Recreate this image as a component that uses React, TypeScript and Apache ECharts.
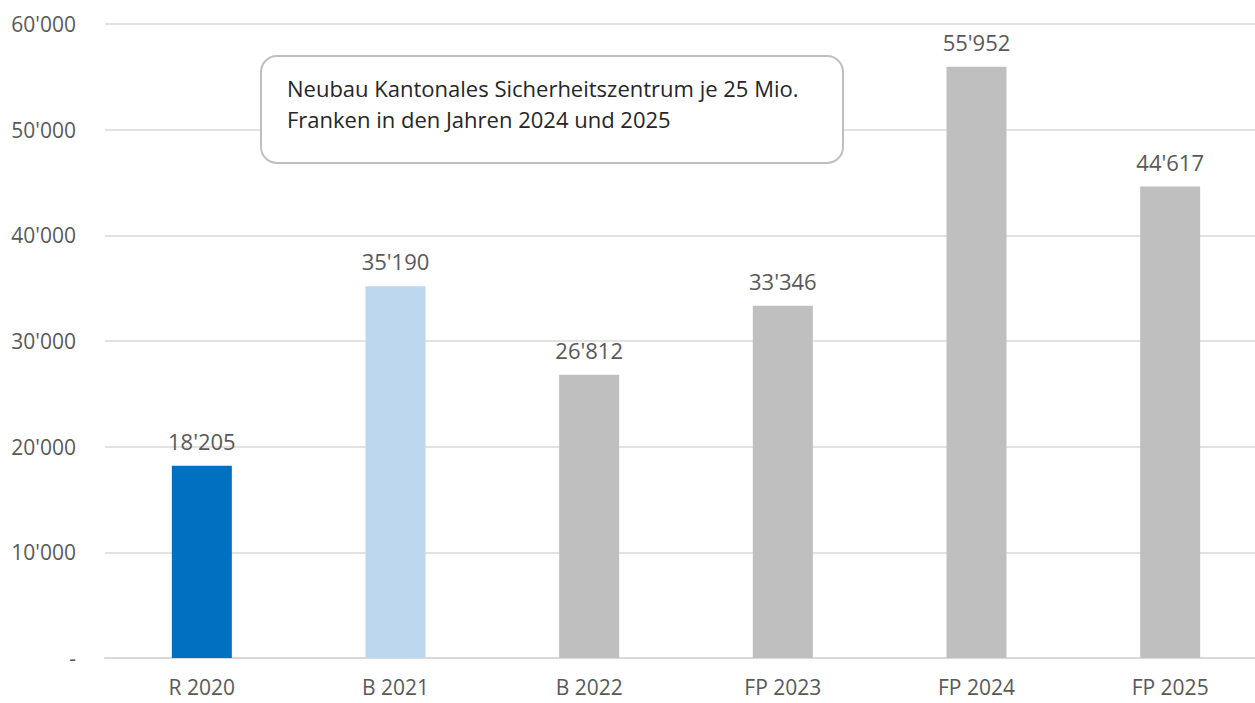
import React, { useEffect, useRef } from "react";
import * as echarts from "echarts";

const categories = ["R 2020", "B 2021", "B 2022", "FP 2023", "FP 2024", "FP 2025"];
const values = [18205, 35190, 26812, 33346, 55952, 44617];
const barColors = ["#0070C0", "#BDD7EE", "#BFBFBF", "#BFBFBF", "#BFBFBF", "#BFBFBF"];
const noteLines = ["Neubau Kantonales Sicherheitszentrum je 25 Mio.", "Franken in den Jahren 2024 und 2025"];

const fmt = (v: number) => {
  if (v === 0) return "-";
  return String(Math.round(v)).replace(/\B(?=(\d{3})+(?!\d))/g, "'");
};

export default function App() {
  const ref = useRef<HTMLDivElement>(null);
  useEffect(() => {
    if (!ref.current) return;
    const chart = echarts.init(ref.current, undefined, { renderer: "svg" });
    const font = "'Open Sans', 'Noto Sans', sans-serif";
    chart.setOption({
      animation: false,
      grid: { left: 105, right: 0, top: 24, bottom: 45 },
      xAxis: {
        type: "category",
        data: categories,
        axisLine: { show: true, lineStyle: { color: "#D9D9D9", width: 2 } },
        axisTick: { show: false },
        axisLabel: { color: "#595959", fontSize: 21, lineHeight: 21, fontFamily: font, margin: 18 },
      },
      yAxis: {
        type: "value",
        min: 0,
        max: 60000,
        interval: 10000,
        axisLine: { show: false },
        axisTick: { show: false },
        splitLine: { lineStyle: { color: "#D9D9D9", width: 1.5 } },
        axisLabel: { color: "#595959", fontSize: 21, fontFamily: font, margin: 29, formatter: (v: number) => fmt(v) },
      },
      series: [
        {
          type: "bar",
          barWidth: 60,
          data: values.map((v, i) => ({ value: v, itemStyle: { color: barColors[i] } })),
          label: {
            show: true,
            position: "top",
            distance: 14,
            color: "#595959",
            fontSize: 22,
            fontFamily: font,
            formatter: (p: any) => fmt(p.value),
          },
        },
      ],
      graphic: [
        {
          type: "rect",
          shape: { x: 261, y: 56, width: 582, height: 107, r: 16 },
          style: { fill: "#FFFFFF", stroke: "#BFBFBF", lineWidth: 2 },
          z: 10,
        },
        {
          type: "text",
          x: 287,
          y: 72,
          style: {
            text: noteLines.join("\n"),
            fill: "#262626",
            fontSize: 22,
            fontFamily: font,
            lineHeight: 31,
          },
          z: 11,
        },
      ],
    });
    return () => chart.dispose();
  }, []);
  return (
    <div style={{ position: "absolute", left: 0, top: 0, width: 1255, height: 703, overflow: "hidden" }}>
      <div ref={ref} style={{ width: 1267, height: 703 }} />
    </div>
  );
}
